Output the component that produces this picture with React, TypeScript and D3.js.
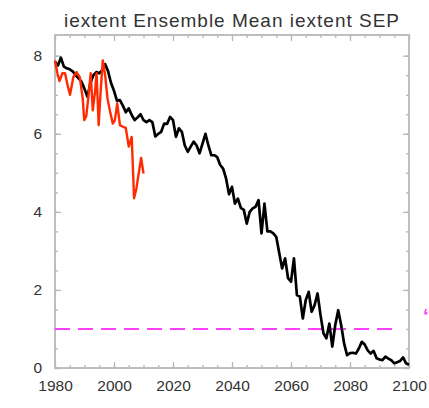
import React, { useEffect, useRef } from 'react';
import * as d3 from 'd3';

const title = 'iextent Ensemble Mean iextent SEP';

// ensemble mean, one value per year from 1980
const meanStartYear = 1980;
const meanValues = [
  7.85, 7.75, 7.95, 7.72, 7.68, 7.65, 7.6, 7.5, 7.42, 7.33,
  7.15, 6.95, 7.3, 7.5, 7.58, 7.55, 7.63, 7.78, 7.6, 7.3,
  7.1, 6.85, 6.86, 6.72, 6.55, 6.65, 6.48, 6.35, 6.42, 6.5,
  6.35, 6.3, 6.35, 6.3, 5.93, 6.0, 6.05, 6.26, 6.25, 6.43,
  6.35, 5.92, 6.14, 6.05, 5.7, 5.54, 5.67, 5.8, 5.7, 5.5,
  5.75, 6.0, 5.7, 5.45, 5.45, 5.4, 5.2, 5.11, 4.85, 4.45,
  4.64, 4.21, 4.34, 4.1, 4.05, 3.7, 4.0, 4.09, 4.13, 4.3,
  3.45, 4.21, 3.5, 3.5, 3.45, 3.36, 2.95, 2.55, 2.81, 2.3,
  2.21, 2.81, 1.87, 1.83, 1.27, 1.74, 1.95, 1.44, 1.61, 1.91,
  1.36, 0.89, 0.76, 1.14, 0.55, 1.1, 1.48, 1.1, 0.63, 0.33,
  0.38, 0.39, 0.37, 0.5, 0.67, 0.6, 0.45, 0.37, 0.44, 0.25,
  0.22, 0.2, 0.29, 0.24, 0.2, 0.12, 0.15, 0.18, 0.27, 0.12,
  0.08,
];

// observations (red)
const obsYears = [
  1980.0, 1980.8, 1981.5, 1982.5, 1983.4, 1984.4, 1985.1, 1986.2, 1987.3, 1988.4,
  1989.4, 1989.9, 1990.6, 1991.4, 1992.1, 1992.8, 1993.6, 1994.1, 1994.8, 1995.5,
  1996.2, 1997.0, 1997.8, 1998.7, 1999.6, 2000.3, 2001.1, 2002.0, 2003.0, 2004.0,
  2005.0, 2006.0, 2006.8, 2007.6, 2008.4, 2009.2, 2010.0,
];
const obsValues = [
  7.88, 7.55, 7.35, 7.55, 7.55, 7.2, 7.0, 7.45, 7.58, 7.45,
  6.9, 6.35, 6.45, 7.0, 7.55, 6.6, 7.1, 7.55, 6.22, 7.12,
  7.88, 7.5, 6.9, 6.56, 6.26, 6.35, 6.78, 6.22, 6.18, 6.15,
  5.67, 5.92, 4.35, 4.6, 5.0, 5.38, 4.98,
];

const thresholdValue = 1;
const thresholdYears = [1980, 2096.5];

const xTicks = [1980, 2000, 2020, 2040, 2060, 2080, 2100];
const xMinorTicks = d3.range(1980, 2101, 5);
const yTicks = [0, 2, 4, 6, 8];
const yMinorTicks = d3.range(0, 8.5, 0.5);

const Chart: React.FC = () => {
  const svgRef = useRef<SVGSVGElement>(null);

  useEffect(() => {
    const totalWidth = 429;
    const totalHeight = 408;
    const left = 55, right = 409, top = 35, bottom = 368;

    const svg = d3.select(svgRef.current);
    svg.selectAll('*').remove();
    svg.attr('width', totalWidth).attr('height', totalHeight);

    const x = d3.scaleLinear().domain([1980, 2100]).range([left, right]);
    const y = d3.scaleLinear().domain([0, 8.53]).range([bottom, top]);

    const axisColor = '#b8b8b8';
    const font = 'Liberation Sans, Arial, sans-serif';

    const styleAxis = (g: any) => {
      g.select('.domain').remove();
      g.selectAll('line').attr('stroke', axisColor).attr('stroke-width', 1.3);
      g.selectAll('text')
        .attr('fill', '#333')
        .style('font-family', font)
        .style('font-size', '15.5px');
    };

    // frame
    svg.append('rect')
      .attr('x', left).attr('y', top)
      .attr('width', right - left).attr('height', bottom - top)
      .attr('fill', 'none')
      .attr('stroke', axisColor)
      .attr('stroke-width', 1.8);

    // bottom axis with labels
    svg.append('g')
      .attr('transform', `translate(0,${bottom})`)
      .call(d3.axisBottom(x).tickValues(xTicks).tickFormat(d3.format('d') as any)
        .tickSizeInner(-6).tickSizeOuter(0).tickPadding(12))
      .call(styleAxis);
    svg.append('g')
      .attr('transform', `translate(0,${bottom})`)
      .call(d3.axisBottom(x).tickValues(xMinorTicks).tickFormat(() => '').tickSize(-3))
      .call(styleAxis);
    // top axis, ticks only
    svg.append('g')
      .attr('transform', `translate(0,${top})`)
      .call(d3.axisTop(x).tickValues(xTicks).tickFormat(() => '').tickSize(-6))
      .call(styleAxis);
    svg.append('g')
      .attr('transform', `translate(0,${top})`)
      .call(d3.axisTop(x).tickValues(xMinorTicks).tickFormat(() => '').tickSize(-3))
      .call(styleAxis);

    // left axis with labels
    svg.append('g')
      .attr('transform', `translate(${left},0)`)
      .call(d3.axisLeft(y).tickValues(yTicks).tickFormat(d3.format('d') as any)
        .tickSizeInner(-6).tickSizeOuter(0).tickPadding(13))
      .call(styleAxis);
    svg.append('g')
      .attr('transform', `translate(${left},0)`)
      .call(d3.axisLeft(y).tickValues(yMinorTicks).tickFormat(() => '').tickSize(-3))
      .call(styleAxis);
    // right axis, ticks only
    svg.append('g')
      .attr('transform', `translate(${right},0)`)
      .call(d3.axisRight(y).tickValues(yTicks).tickFormat(() => '').tickSize(-6))
      .call(styleAxis);
    svg.append('g')
      .attr('transform', `translate(${right},0)`)
      .call(d3.axisRight(y).tickValues(yMinorTicks).tickFormat(() => '').tickSize(-3))
      .call(styleAxis);

    // threshold line
    svg.append('path')
      .attr('d', d3.line<number>().x(d => x(d)).y(() => y(thresholdValue))(thresholdYears))
      .attr('stroke', '#ff40ff')
      .attr('stroke-width', 2)
      .attr('stroke-dasharray', '15,8')
      .attr('fill', 'none');

    // ensemble mean
    const meanLine = d3.line<number>()
      .x((_, i) => x(meanStartYear + i))
      .y(d => y(d));
    svg.append('path')
      .attr('d', meanLine(meanValues))
      .attr('stroke', '#000')
      .attr('stroke-width', 2.7)
      .attr('stroke-linejoin', 'round')
      .attr('fill', 'none');

    // observations
    const obsLine = d3.line<number>()
      .x((_, i) => x(obsYears[i]))
      .y(d => y(d));
    svg.append('path')
      .attr('d', obsLine(obsValues))
      .attr('stroke', '#ff2a00')
      .attr('stroke-width', 2.4)
      .attr('stroke-linejoin', 'round')
      .attr('fill', 'none');

    // title
    svg.append('text')
      .attr('x', (left + right) / 2)
      .attr('y', 27)
      .attr('text-anchor', 'middle')
      .attr('fill', '#333')
      .style('font-family', font)
      .style('font-size', '19px')
      .style('letter-spacing', '1px')
      .text(title);

    // clipped legend mark at the right edge
    svg.append('text')
      .attr('x', 423)
      .attr('y', 323)
      .attr('fill', '#ff40ff')
      .style('font-family', font)
      .style('font-size', '20px')
      .style('font-weight', 'bold')
      .text('‘');
  }, []);

  return <svg ref={svgRef} style={{ position: 'absolute', left: 0, top: 0 }}></svg>;
};

export default function App() {
  return <Chart />;
}
